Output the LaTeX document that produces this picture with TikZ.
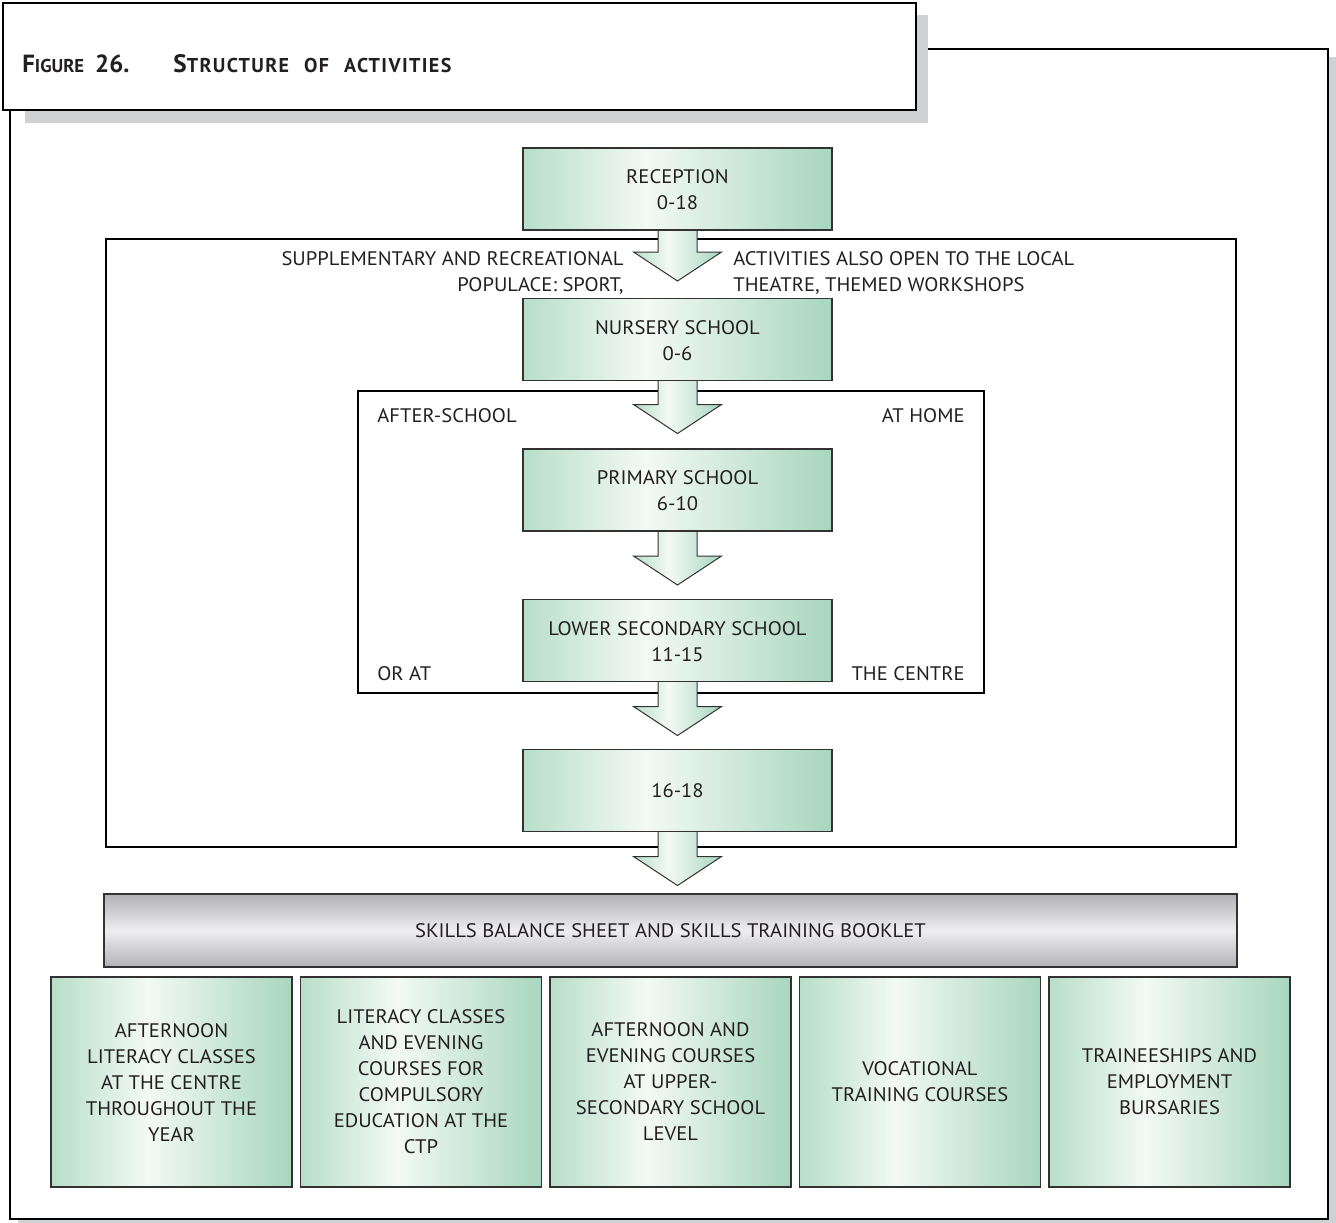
\documentclass[tikz,border=0pt]{standalone}
\usepackage{fontspec}
\setmainfont[FakeStretch=1.05]{PT Sans}
\newfontfamily\titlefont{PT Sans}
\newfontfamily\titlesc[LetterSpace=7]{PT Sans}
\usetikzlibrary{calc}
\definecolor{gedge}{RGB}{168,214,190}
\definecolor{gleft}{RGB}{184,222,200}
\definecolor{glight}{RGB}{243,249,245}
\definecolor{gdark}{RGB}{178,178,182}
\definecolor{glt}{RGB}{238,238,241}
\definecolor{shd}{RGB}{208,209,211}
\definecolor{txt}{RGB}{35,31,32}
\definecolor{bord}{RGB}{50,50,50}
\pgfdeclarehorizontalshading{greensh}{100bp}{color(0bp)=(gleft); color(25bp)=(gleft); color(45bp)=(glight); color(75bp)=(gedge); color(100bp)=(gedge)}
\pgfdeclareverticalshading{greysh}{100bp}{color(0bp)=(gdark); color(25bp)=(gdark); color(50bp)=(glt); color(75bp)=(gdark); color(100bp)=(gdark)}
\pgfdeclarelayer{frames}
\pgfdeclarelayer{arrows}
\pgfsetlayers{frames,arrows,main}
\newcommand\bigsc[1]{{\titlefont\bfseries\fontsize{12.4}{14}\selectfont #1}}
\newcommand\smsc[1]{{\titlefont\bfseries\fontsize{9.3}{14}\selectfont #1}}
\newcommand\bigscw[1]{{\titlesc\bfseries\fontsize{12.6}{14}\selectfont #1}}
\newcommand\smscw[1]{{\titlesc\bfseries\fontsize{10}{14}\selectfont #1}}
\newcommand\barrow[2]{%
  \draw[arrowst] ($(#1.south)+(-19.5,-2)$) -- ++(0,#2+2) -- ++(-24.5,0)
    -- ++(44,29) -- ++(44,-29) -- ++(-24.5,0) -- ++(0,-#2-2) -- cycle;}
\tikzset{
  gbox/.style={shading=greensh, draw=bord, line width=0.9pt, inner sep=0pt, outer sep=0pt,
    align=center, text=txt, font=\fontsize{9.8}{13}\selectfont},
  lbox/.style={gbox, minimum width=154.5pt, minimum height=41pt},
  sbox/.style={gbox, minimum width=120.5pt, minimum height=105pt},
  greybar/.style={shading=greysh, draw=bord, line width=0.9pt, inner sep=0pt, outer sep=0pt,
    minimum width=566.5pt, minimum height=36.5pt, text=txt, font=\fontsize{9.8}{13}\selectfont},
  arrowst/.style={shading=greensh, draw=bord, line width=0.5pt},
  frame/.style={draw=black, line width=1.25pt},
  lbl/.style={inner sep=0pt, text=txt, font=\fontsize{9.8}{13}\selectfont}
}
\begin{document}
\begin{tikzpicture}[x=0.5pt,y=-0.5pt]
\useasboundingbox (0,0) rectangle (1336,1222);
% main boxes
\node[lbox] (rec) at (677.5,189) {\rule{0pt}{8pt}RECEPTION\\0-18};
\node[lbox] (nur) at (677.5,339.5) {\rule{0pt}{8pt}NURSERY SCHOOL\\0-6};
\node[lbox] (pri) at (677.5,490) {\rule{0pt}{8pt}PRIMARY SCHOOL\\6-10};
\node[lbox] (low) at (677.5,640.5) {\rule{0pt}{8pt}LOWER SECONDARY SCHOOL\\11-15};
\node[lbox] (sxt) at (677.5,790.5) {16-18};
\node[greybar] (skills) at (670.5,930.5) {SKILLS BALANCE SHEET AND SKILLS TRAINING BOOKLET};
\node[sbox] (b1) at (171.5,1082) {AFTERNOON\\LITERACY CLASSES\\AT THE CENTRE\\THROUGHOUT THE\\YEAR};
\node[sbox] (b2) at (421,1082) {LITERACY CLASSES\\AND EVENING\\COURSES FOR\\COMPULSORY\\EDUCATION AT THE\\CTP};
\node[sbox] (b3) at (670.5,1082) {AFTERNOON AND\\EVENING COURSES\\AT UPPER-\\SECONDARY SCHOOL\\LEVEL};
\node[sbox] (b4) at (920,1082) {VOCATIONAL\\TRAINING COURSES};
\node[sbox] (b5) at (1169.5,1082) {TRAINEESHIPS AND\\EMPLOYMENT\\BURSARIES};
% labels
\node[lbl, anchor=north east, align=right] (supl) at (624,251) {SUPPLEMENTARY AND RECREATIONAL\\POPULACE: SPORT,};
\node[lbl, anchor=north west, align=left] (actl) at (733,251) {ACTIVITIES ALSO OPEN TO THE LOCAL\\THEATRE, THEMED WORKSHOPS};
\node[lbl, anchor=north west] (after) at (377,408) {AFTER-SCHOOL};
\node[lbl, anchor=north east] (athome) at (965,408) {AT HOME};
\node[lbl, anchor=north west] (orat) at (377,666) {OR AT};
\node[lbl, anchor=north east] (centre) at (965,666) {THE CENTRE};
% frames and title
\begin{pgfonlayer}{frames}
  \fill[shd] (18,57) rectangle (1336,1227);
  \draw[fill=white, draw=black, line width=1pt] (10,49) rectangle (1328,1219);
  \fill[shd] (25,15) rectangle (928,123);
  \draw[fill=white, draw=black, line width=1pt] (3,3) rectangle (916,110);
  \node[anchor=base west, inner sep=0pt, text=txt] (title) at (22,72)
    {\bigsc{F}\smsc{IGURE}\hspace{5.5pt}\bigsc{26.}\hspace{22pt}\bigscw{S}\smscw{TRUCTURE}\hspace{7.5pt}\smscw{OF}\hspace{7.5pt}\smscw{ACTIVITIES}};
  \draw[frame] (106,239) rectangle (1236,847);
  \draw[frame] (358,391) rectangle (984,693);
\end{pgfonlayer}
\begin{pgfonlayer}{arrows}
  \barrow{rec}{22}
  \barrow{nur}{24}
  \barrow{pri}{25}
  \barrow{low}{25}
  \barrow{sxt}{25}
\end{pgfonlayer}
\end{tikzpicture}
\end{document}
